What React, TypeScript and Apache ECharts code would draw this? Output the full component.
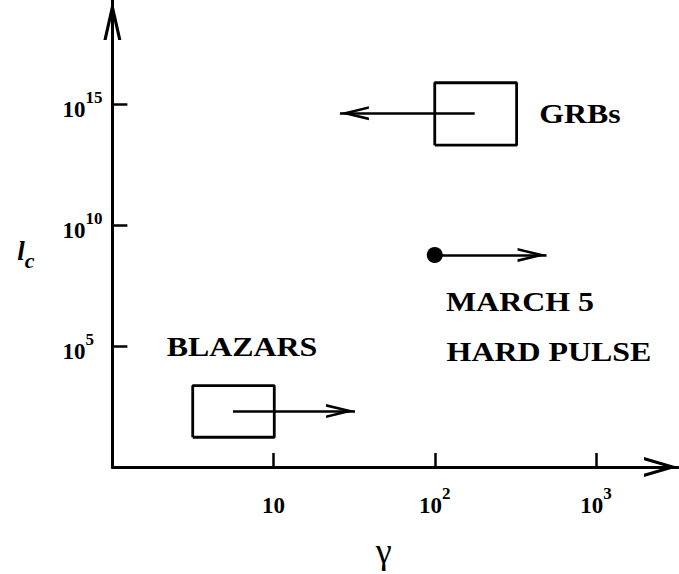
import { useEffect, useRef } from 'react';
import * as echarts from 'echarts';

// ---- data (real values, plotted on log10 value axes) ----
const gammaRange = [1, 3230];
const lcRange = [1, 2e19];
const gammaTicks = [10, 100, 1000];
const lcTicks = [1e5, 1e10, 1e15];

const grbBoxGamma = [100, 322];
const grbBoxLc = [2.0e13, 7.6e15];
const grbArrowGamma = [177, 25.8];
const grbArrowLc = 4.2e14;

const blazarBoxGamma = [3.15, 10.1];
const blazarBoxLc = [17, 2300];
const blazarArrowGamma = [5.6, 32];
const blazarArrowLc = 204;

const march5Gamma = [100, 494];
const march5Lc = 5.8e8;

const FONT = '"Liberation Serif", "Times New Roman", Times, serif';

const lg = (v: number) => Math.log10(v);

function boxPoints(g: number[], l: number[]) {
  return [
    [lg(g[0]), lg(l[0])],
    [lg(g[1]), lg(l[0])],
    [lg(g[1]), lg(l[1])],
    [lg(g[0]), lg(l[1])],
    [lg(g[0]), lg(l[0])],
  ];
}

// chevron arrow head, tip at the centre of its bounding box, pointing up
function chevron(a: number, L: number, t: number) {
  const iy = ((t * L) / a).toFixed(2);
  const b = (a - t).toFixed(2);
  return `path://M0,0L${a},${L}L${b},${L}L0,${iy}L-${b},${L}L-${a},${L}ZM0,-${L}L0,-${L}`;
}

const arrowHead = chevron(7, 29, 2.6);

function arrowLine(g: number[], l: number) {
  return {
    silent: true,
    symbol: ['none', arrowHead],
    symbolSize: [14, 58],
    lineStyle: { color: '#000', width: 2.6, type: 'solid', opacity: 1 },
    label: { show: false },
    emphasis: { disabled: true },
    data: [[{ coord: [lg(g[0]), lg(l)] }, { coord: [lg(g[1]), lg(l)] }]],
  };
}

const supRich = {
  b: { fontFamily: FONT, fontWeight: 'bold', fontSize: 23, lineHeight: 32, verticalAlign: 'bottom', color: '#000' },
  s: { fontFamily: FONT, fontWeight: 'bold', fontSize: 17, lineHeight: 12, verticalAlign: 'top', color: '#000' },
};

export default function App() {
  const ref = useRef<HTMLDivElement>(null);
  useEffect(() => {
    if (!ref.current) return;
    const chart = echarts.init(ref.current, null, { renderer: 'svg' });
    const textStyle = (text: string, x: number, y: number) => ({
      type: 'text',
      x,
      y,
      scaleX: 1.14,
      silent: true,
      style: {
        text,
        font: `bold 28px ${FONT}`,
        fill: '#000',
        textAlign: 'center',
        textVerticalAlign: 'middle',
      },
    });
    const option: any = {
      animation: false,
      backgroundColor: '#fff',
      grid: { left: 112.4, right: 1, top: 0, bottom: 107, containLabel: false, outerBoundsMode: 'none' },
      xAxis: {
        type: 'value',
        min: lg(gammaRange[0]),
        max: lg(gammaRange[1]),
        interval: 1,
        splitLine: { show: false },
        axisLine: {
          show: true,
          onZero: false,
          lineStyle: { color: '#000', width: 3 },
          symbol: ['none', chevron(10, 34, 3.2)],
          symbolSize: [20, 68],
          symbolOffset: [0, 0],
        },
        axisTick: {
          show: true,
          inside: true,
          length: 14,
          lineStyle: { color: '#000', width: 2.5 },
          customValues: gammaTicks.map(lg),
        },
        axisLabel: {
          customValues: gammaTicks.map(lg),
          margin: 18,
          formatter: (v: number) => {
            const e = Math.round(v);
            return e === 1 ? '{b|10}' : `{b|10}{s|${e}}`;
          },
          rich: supRich,
        },
        name: 'γ',
        nameLocation: 'middle',
        nameGap: 66,
        nameMoveOverlap: false,
        nameTextStyle: {
          fontFamily: FONT,
          fontSize: 36,
          lineHeight: 36,
          color: '#000',
          padding: [0, 23, 0, 0],
        },
      },
      yAxis: {
        type: 'value',
        min: lg(lcRange[0]),
        max: lg(lcRange[1]),
        interval: 5,
        splitLine: { show: false },
        axisLine: {
          show: true,
          onZero: false,
          lineStyle: { color: '#000', width: 3 },
          symbol: ['none', chevron(9, 40, 3.2)],
          symbolSize: [18, 80],
          symbolOffset: [0, 0],
        },
        axisTick: {
          show: true,
          inside: true,
          length: 15,
          lineStyle: { color: '#000', width: 2.5 },
          customValues: lcTicks.map(lg),
        },
        axisLabel: {
          customValues: lcTicks.map(lg),
          align: 'left',
          margin: 50,
          padding: [2, 0, 0, 0],
          formatter: (v: number) => `{b|10}{s|${Math.round(v)}}`,
          rich: supRich,
        },
        name: '{l|l}{c|c}',
        nameLocation: 'middle',
        nameRotate: 0,
        nameGap: 78,
        nameMoveOverlap: false,
        nameTextStyle: {
          padding: [42, 0, 0, 0],
          rich: {
            l: { fontFamily: FONT, fontStyle: 'italic', fontWeight: 'bold', fontSize: 27, lineHeight: 34, verticalAlign: 'top', color: '#000' },
            c: { fontFamily: FONT, fontStyle: 'italic', fontWeight: 'bold', fontSize: 22, lineHeight: 20, verticalAlign: 'bottom', color: '#000' },
          },
        },
      },
      graphic: [
        textStyle('GRBs', 580, 113),
        textStyle('BLAZARS', 242, 346),
        textStyle('MARCH 5', 520, 301),
        textStyle('HARD PULSE', 549, 351),
      ],
      series: [
        {
          name: 'GRBs',
          type: 'line',
          data: boxPoints(grbBoxGamma, grbBoxLc),
          symbol: 'none',
          silent: true,
          lineStyle: { color: '#000', width: 2.8, opacity: 1 },
          markLine: arrowLine(grbArrowGamma, grbArrowLc),
        },
        {
          name: 'BLAZARS',
          type: 'line',
          data: boxPoints(blazarBoxGamma, blazarBoxLc),
          symbol: 'none',
          silent: true,
          lineStyle: { color: '#000', width: 2.8, opacity: 1 },
          markLine: arrowLine(blazarArrowGamma, blazarArrowLc),
        },
        {
          name: 'MARCH 5',
          type: 'scatter',
          data: [[lg(march5Gamma[0]), lg(march5Lc)]],
          symbolSize: 16,
          silent: true,
          itemStyle: { color: '#000', opacity: 1 },
          markLine: arrowLine(march5Gamma, march5Lc),
        },
      ],
    };
    chart.setOption(option);
    return () => chart.dispose();
  }, []);
  return (
    <div
      ref={ref}
      style={{ position: 'absolute', left: 0, top: 0, width: 679, height: 574 }}
    />
  );
}
